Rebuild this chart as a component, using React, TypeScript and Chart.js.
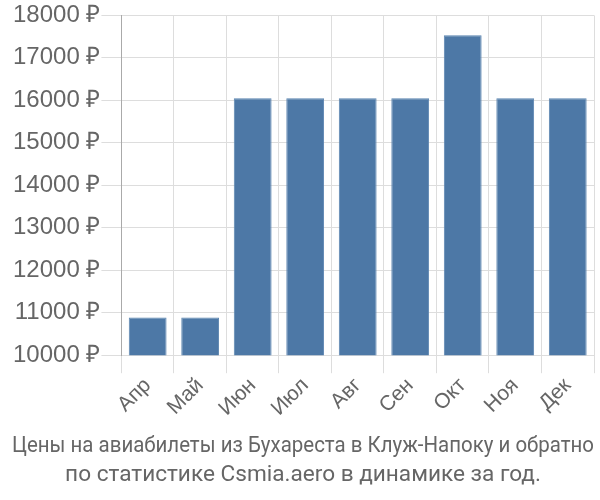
import React, { useEffect, useRef } from "react";
import { Chart, registerables } from "chart.js";

Chart.register(...registerables);

const categories = ["Апр", "Май", "Июн", "Июл", "Авг", "Сен", "Окт", "Ноя", "Дек"];
const prices = [10890, 10890, 16050, 16050, 16050, 16050, 17530, 16050, 16050];
const titleLines = [
  "Цены на авиабилеты из Бухареста в Клуж-Напоку и обратно",
  "по статистике Csmia.aero в динамике за год.",
];

export default function App() {
  const ref = useRef<HTMLCanvasElement | null>(null);
  useEffect(() => {
    document.body.style.margin = "0";
    const ctx = ref.current!;
    const chart = new Chart(ctx, {
      type: "bar",
      data: {
        labels: categories,
        datasets: [
          {
            data: prices,
            backgroundColor: "#4d78a6",
            borderColor: "#5a84b0",
            borderWidth: 1,
          },
        ],
      },
      options: {
        animation: false,
        responsive: false,
        layout: { padding: { left: 12, right: 6, top: 1, bottom: 0 } },
        plugins: {
          legend: { display: false },
          tooltip: { enabled: false },
          title: {
            display: true,
            position: "bottom",
            text: titleLines,
            color: "#666",
            font: { family: "Roboto", size: 22.6, weight: "normal", lineHeight: 1.28 },
            padding: { top: 11, bottom: 10 },
          },
        },
        scales: {
          x: {
            grid: { color: "#dddddd", tickLength: 18 },
            border: { color: "#dddddd" },
            ticks: {
              color: "#666",
              maxRotation: 45,
              minRotation: 45,
              padding: 0,
              font: { family: "Liberation Sans", size: 21 },
            },
          },
          y: {
            min: 10000,
            max: 18000,
            grid: { color: "#dddddd", tickLength: 20 },
            border: { color: "#aaaaaa" },
            ticks: {
              stepSize: 1000,
              color: "#666",
              padding: 1,
              font: { family: "Liberation Sans", size: 24 },
              callback: (v: any) => v + " ₽",
            },
          },
        },
      },
    });
    return () => chart.destroy();
  }, []);
  return (
    <div style={{ width: 600, height: 500 }}>
      <canvas ref={ref} width={600} height={500} />
    </div>
  );
}
